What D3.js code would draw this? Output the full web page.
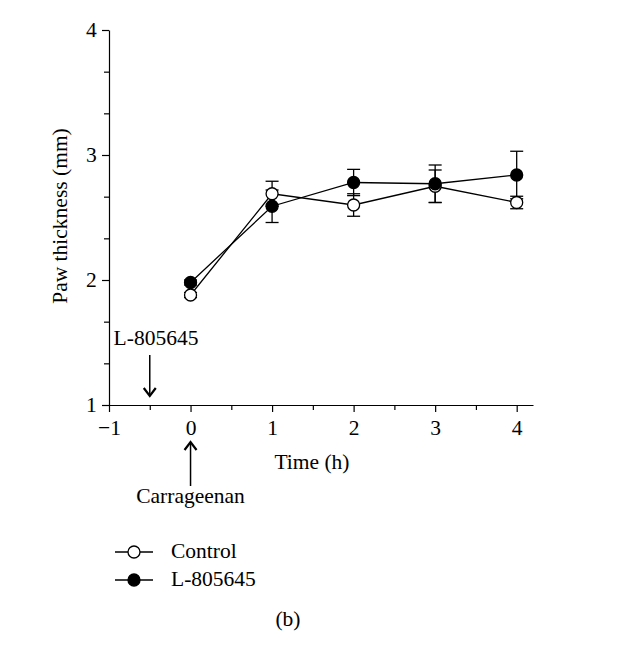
<!DOCTYPE html>
<html><head><meta charset="utf-8">
<script src="https://cdn.jsdelivr.net/npm/d3@7"></script>
<style>body{margin:0;background:#fff}svg{display:block}text{font-family:"Liberation Serif","Times New Roman",serif;fill:#000}</style>
</head><body>
<script>
const times = [0, 1, 2, 3, 4];
const controlMean = [1.88, 2.69, 2.60, 2.75, 2.62];
const controlErr  = [0.02, 0.10, 0.09, 0.13, 0.05];
const drugMean    = [1.98, 2.59, 2.78, 2.77, 2.84];
const drugErr     = [0.02, 0.13, 0.105, 0.15, 0.19];
const xTicks = [-1, 0, 1, 2, 3, 4];
const yTicks = [1, 2, 3, 4];
const seriesNames = ["Control", "L-805645"];

const FS = 21.5;
const W = 632, H = 659;
const svg = d3.select("body").append("svg").attr("width", W).attr("height", H);
const x = d3.scaleLinear().domain([-1, 4.2]).range([109, 533]);
const y = d3.scaleLinear().domain([1, 4]).range([405, 30]);

// axes
const xAxis = d3.axisBottom(x).tickValues(xTicks).tickFormat(d => d < 0 ? "\u2212" + Math.abs(d) : String(d)).tickSize(7).tickSizeOuter(0);
const gx = svg.append("g").attr("transform", `translate(0,${y(1)})`).call(xAxis);
gx.selectAll("text").attr("font-size", FS).attr("dy", "0.95em");
const xMinor = d3.axisBottom(x).tickValues([-0.5, 0.5, 1.5, 2.5, 3.5]).tickFormat("").tickSize(5).tickSizeOuter(0);
svg.append("g").attr("transform", `translate(0,${y(1)})`).call(xMinor).select(".domain").remove();

const yAxis = d3.axisLeft(y).tickValues(yTicks).tickFormat(d => String(d)).tickSize(7).tickSizeOuter(0);
const gy = svg.append("g").attr("transform", `translate(${x(-1)},0)`).call(yAxis);
gy.selectAll("text").attr("font-size", FS).attr("dx", "-0.1em");
const minorY = [];
for (let i = 1; i < 4; i++) for (let k = 1; k < 3; k++) minorY.push(i + k / 3);
const yMinor = d3.axisLeft(y).tickValues(minorY).tickFormat("").tickSize(5).tickSizeOuter(0);
svg.append("g").attr("transform", `translate(${x(-1)},0)`).call(yMinor).select(".domain").remove();
svg.selectAll(".domain, .tick line").attr("stroke", "#000").attr("stroke-width", 1.2);

svg.append("text").attr("x", 312).attr("y", 469).attr("text-anchor", "middle").attr("font-size", FS).text("Time (h)");
svg.append("text").attr("transform", "translate(67,216) rotate(-90)").attr("text-anchor", "middle").attr("font-size", FS).text("Paw thickness (mm)");

// data series
const series = [
  {name: seriesNames[0], mean: controlMean, err: controlErr, fill: "#fff"},
  {name: seriesNames[1], mean: drugMean, err: drugErr, fill: "#000"}
];
const line = d3.line().x(d => x(d[0])).y(d => y(d[1]));
series.forEach(s => {
  const pts = times.map((t, i) => [t, s.mean[i], s.err[i]]);
  const g = svg.append("g");
  pts.forEach(p => {
    g.append("line").attr("x1", x(p[0])).attr("x2", x(p[0])).attr("y1", y(p[1] - p[2])).attr("y2", y(p[1] + p[2])).attr("stroke", "#000").attr("stroke-width", 1.3);
    [p[1] - p[2], p[1] + p[2]].forEach(v => g.append("line").attr("x1", x(p[0]) - 6.5).attr("x2", x(p[0]) + 6.5).attr("y1", y(v)).attr("y2", y(v)).attr("stroke", "#000").attr("stroke-width", 1.3));
  });
  s.pts = pts;
});
series.forEach(s => {
  svg.append("path").datum(s.pts).attr("d", line).attr("fill", "none").attr("stroke", "#000").attr("stroke-width", 1.3);
});
series.forEach(s => {
  svg.append("g").selectAll("circle").data(s.pts).join("circle")
    .attr("cx", d => x(d[0])).attr("cy", d => y(d[1])).attr("r", 6)
    .attr("fill", s.fill).attr("stroke", "#000").attr("stroke-width", 1.3);
});

// annotations
function arrow(xv, y1, y2) {
  svg.append("line").attr("x1", xv).attr("x2", xv).attr("y1", y1).attr("y2", y2).attr("stroke", "#000").attr("stroke-width", 1.5);
  const dir = y2 > y1 ? -1 : 1;
  svg.append("path").attr("d", `M${xv - 6},${y2 + dir * 8} L${xv},${y2} L${xv + 6},${y2 + dir * 8}`).attr("fill", "none").attr("stroke", "#000").attr("stroke-width", 2.2);
}
svg.append("text").attr("x", 156).attr("y", 345).attr("text-anchor", "middle").attr("font-size", FS).text("L-805645");
arrow(x(-0.5), 355, 396);
arrow(x(0), 486, 442);
svg.append("text").attr("x", x(0)).attr("y", 503).attr("text-anchor", "middle").attr("font-size", FS).text("Carrageenan");

// legend
series.forEach((s, i) => {
  const ly = 552 + i * 28;
  svg.append("line").attr("x1", 115).attr("x2", 153).attr("y1", ly).attr("y2", ly).attr("stroke", "#000").attr("stroke-width", 1.3);
  svg.append("circle").attr("cx", 134).attr("cy", ly).attr("r", 6).attr("fill", s.fill).attr("stroke", "#000").attr("stroke-width", 1.3);
  svg.append("text").attr("x", 171).attr("y", ly + 6).attr("font-size", FS).text(s.name);
});
svg.append("text").attr("x", 288).attr("y", 626).attr("text-anchor", "middle").attr("font-size", FS).text("(b)");
</script>
</body></html>
